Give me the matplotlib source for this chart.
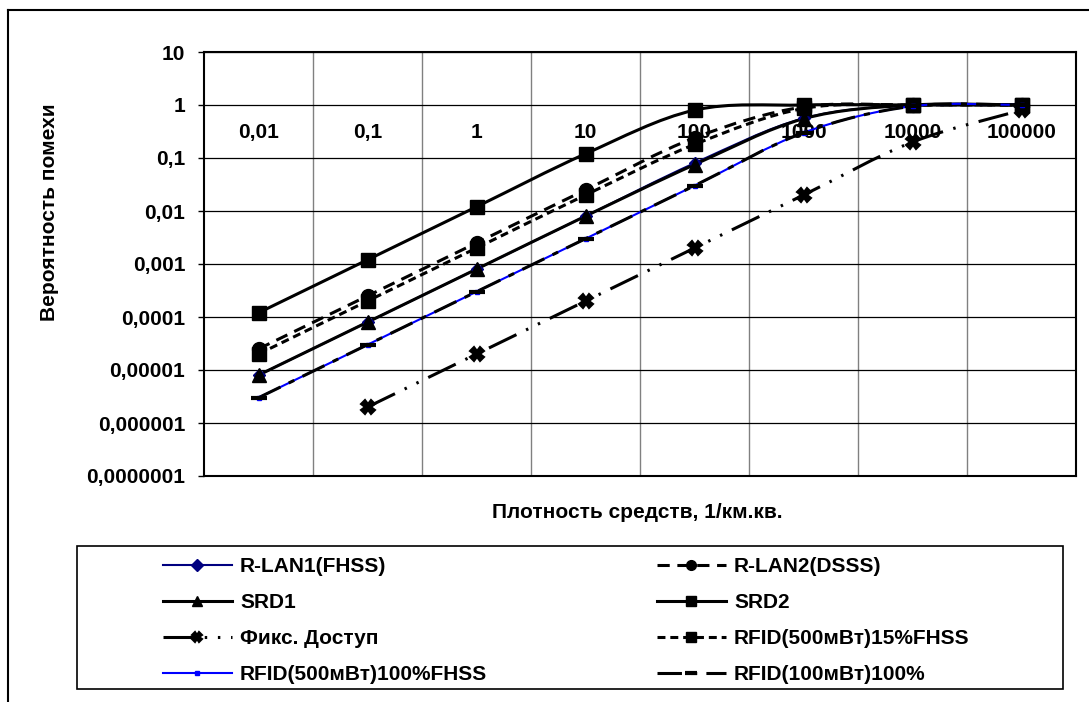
import numpy as np
import matplotlib.pyplot as plt
from matplotlib.path import Path
from matplotlib.patches import PathPatch, Rectangle
from matplotlib.lines import Line2D

plt.rcParams['font.family'] = ['Liberation Sans', 'DejaVu Sans']
plt.rcParams['font.weight'] = 'bold'

# --- data ---
density = ['0,01', '0,1', '1', '10', '100', '1000', '10000', '100000']

r_lan1 = [0.000008, 0.00008, 0.0008, 0.008, 0.08, 0.56, 1, 1]
r_lan2 = [0.000025, 0.00025, 0.0025, 0.025, 0.24, 0.92, 1, 1]
srd1 = [0.000008, 0.00008, 0.0008, 0.008, 0.075, 0.55, 1, 1]
srd2 = [0.00012, 0.0012, 0.012, 0.12, 0.8, 1, 1, 1]
fix_access = [np.nan, 0.000002, 0.00002, 0.0002, 0.002, 0.02, 0.2, 0.8]
rfid15 = [0.00002, 0.0002, 0.002, 0.02, 0.18, 0.86, 1, 1]
rfid500_100 = [0.000003, 0.00003, 0.0003, 0.003, 0.03, 0.3, 0.95, 1]
rfid100_100 = [0.000003, 0.00003, 0.0003, 0.003, 0.03, 0.3, 0.95, 1]

y_ticks = [1e-7, 1e-6, 1e-5, 1e-4, 1e-3, 1e-2, 1e-1, 1, 10]
y_labels = ['0,0000001', '0,000001', '0,00001', '0,0001', '0,001',
            '0,01', '0,1', '1', '10']

FS = 15


def smooth_path(xs, ys):
    # Excel-like smoothed line: Catmull-Rom bezier in (index, log10 y) space
    p = np.column_stack([xs, np.log10(ys)])
    q = np.vstack([p[:1], p, p[-1:]])
    verts = [p[0]]
    codes = [Path.MOVETO]
    for i in range(len(p) - 1):
        c1 = q[i + 1] + (q[i + 2] - q[i]) / 6
        c2 = q[i + 2] - (q[i + 3] - q[i + 1]) / 6
        verts += [c1, c2, q[i + 2]]
        codes += [Path.CURVE4] * 3
    v = np.array(verts)
    v[:, 1] = 10 ** v[:, 1]
    return Path(v, codes)


series = [
    # label, values, color, lw, linestyle, marker, ms, legend ms
    ('R-LAN1(FHSS)', r_lan1, '#000080', 1.5, '-', 'D', 6, 6),
    ('R-LAN2(DSSS)', r_lan2, 'black', 2.2, (0, (4, 2.5)), 'o', 10, 7),
    ('SRD1', srd1, 'black', 2.2, '-', '^', 10, 7),
    ('SRD2', srd2, 'black', 2.2, '-', 's', 10, 7),
    ('Фикс. Доступ', fix_access, 'black', 2.2, (0, (10, 3.5, 0.8, 3.5, 0.8, 3.5)), 'X', 10, 7),
    ('RFID(500мВт)15%FHSS', rfid15, 'black', 2.2, (0, (2.6, 1.6)), 's', 10, 7),
    ('RFID(500мВт)100%FHSS', rfid500_100, '#0000FF', 1.5, '-', 's', 3, 3),
    ('RFID(100мВт)100%', rfid100_100, 'black', 2.2, (0, (8, 3, 2, 3)), '_', 12, 9),
]

fig = plt.figure(figsize=(10.89, 7.02), dpi=100)
W, H = 1089, 702
ax = fig.add_axes([204 / W, 1 - 476 / H, 872 / W, 424 / H])

x = np.arange(len(density))
handles = []
for label, vals, color, lw, ls, mk, ms, lms in series:
    vals = np.array(vals, dtype=float)
    ok = ~np.isnan(vals)
    patch = PathPatch(smooth_path(x[ok], vals[ok]), fill=False, edgecolor=color,
                      linewidth=lw, linestyle=ls, capstyle='butt')
    ax.add_patch(patch)
    mew = 3 if mk == '_' else (1.5 if mk == 'X' else 1)
    ax.plot(x[ok], vals[ok], linestyle='none', marker=mk, markersize=ms,
            color=color, markeredgecolor=color, markeredgewidth=mew)
    handles.append(Line2D([], [], color=color, linewidth=lw, linestyle=ls,
                          marker=mk, markersize=lms, markeredgewidth=mew,
                          markeredgecolor=color))

ax.set_yscale('log')
ax.set_ylim(1e-7, 10)
ax.set_xlim(-0.5, len(density) - 0.5)
ax.set_yticks(y_ticks)
ax.set_yticklabels(y_labels)
ax.yaxis.set_minor_locator(plt.NullLocator())
ax.tick_params(axis='y', which='major', direction='out', length=4.5, width=1,
               labelsize=FS, pad=9)
ax.set_xticks(x[:-1] + 0.5)
ax.tick_params(axis='x', which='major', length=0, labelbottom=False)
ax.grid(True, axis='y', color='black', linewidth=0.9)
ax.grid(True, axis='x', color='#808080', linewidth=1.0)
ax.set_axisbelow(True)
for sp in ax.spines.values():
    sp.set_linewidth(1.5)

# category labels hang under the y=1 line, like Excel's crossing axis
sec = ax.secondary_xaxis(7 / 8)
sec.set_xticks(x)
sec.set_xticklabels(density)
sec.xaxis.set_ticks_position('bottom')
sec.tick_params(length=0, labelsize=FS, pad=13, labelbottom=True, labeltop=False)
for sp in sec.spines.values():
    sp.set_visible(False)

fig.text(50 / W, 1 - 212 / H, 'Вероятность помехи', rotation=90,
         ha='center', va='center', fontsize=FS)
fig.text(637 / W, 1 - 512 / H, 'Плотность средств, 1/км.кв.',
         ha='center', va='center', fontsize=FS)

# legend frame and two columns
fig.patches.append(Rectangle((77 / W, 1 - 689 / H), 986 / W, 143 / H,
                             transform=fig.transFigure, fill=False,
                             edgecolor='black', linewidth=1.2))
labels = [s[0] for s in series]
for col, x0 in ((0, 163), (1, 657)):
    idx = [col, col + 2, col + 4, col + 6]
    fig.legend([handles[i] for i in idx], [labels[i] for i in idx],
               loc='upper left', bbox_to_anchor=(x0 / W, 1 - 557 / H),
               frameon=False, fontsize=FS, handlelength=3.3,
               handletextpad=0.4, borderpad=0, borderaxespad=0,
               labelspacing=0.82)

# outer chart frame
fig.add_artist(Line2D([7.5 / W, 7.5 / W], [0, 1 - 10 / H], color='black',
                      linewidth=1.5, transform=fig.transFigure))
fig.add_artist(Line2D([7.5 / W, 1], [1 - 10 / H, 1 - 10 / H], color='black',
                      linewidth=1.5, transform=fig.transFigure))

fig.savefig('out.png', dpi=100)
